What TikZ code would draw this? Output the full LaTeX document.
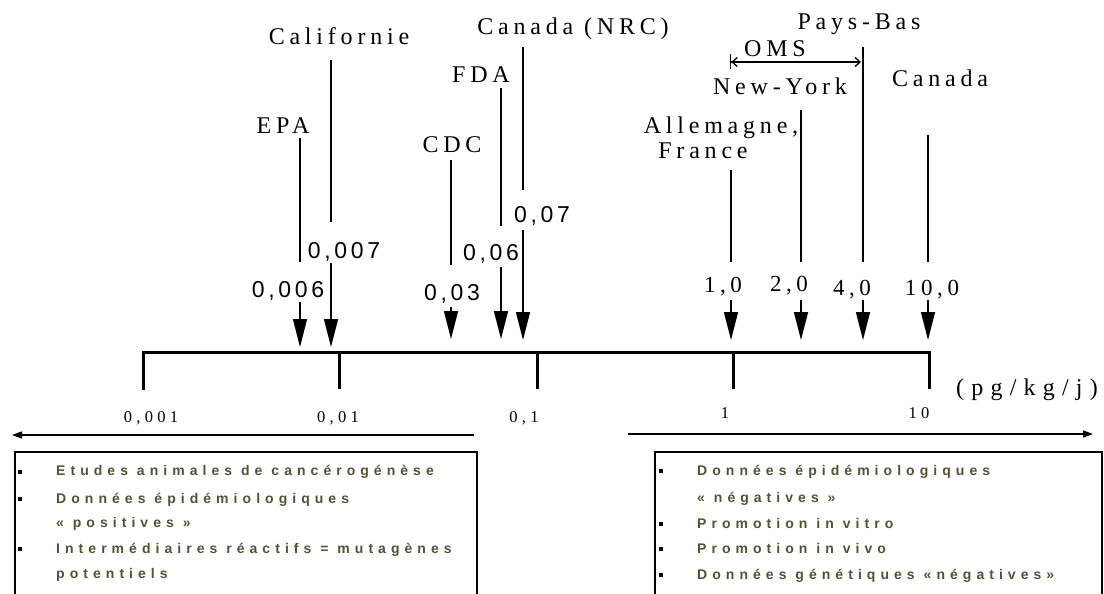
\documentclass[tikz,border=0pt]{standalone}
\usepackage{fontspec}
\setmainfont{Liberation Serif}
\newfontfamily\labf{Liberation Serif}[LetterSpace=20]
\newfontfamily\numsf{Liberation Sans}[LetterSpace=16]
\newfontfamily\numrm{Liberation Serif}[LetterSpace=20]
\newfontfamily\tickf{Liberation Serif}[LetterSpace=26]
\newfontfamily\unitf{Liberation Serif}[LetterSpace=30]
\newfontfamily\boxf{Liberation Sans}[LetterSpace=36]
\usetikzlibrary{arrows.meta}
\definecolor{olivegray}{RGB}{84,82,50}
\begin{document}
\begin{tikzpicture}[x=1pt,y=-1pt,
  lab/.style={inner sep=0pt, anchor=base, font=\fontsize{24}{26}\labf},
  vsf/.style={inner sep=0pt, anchor=base, font=\fontsize{23}{25}\numsf},
  vrm/.style={inner sep=0pt, anchor=base, font=\fontsize{23}{25}\numrm},
  ticklab/.style={inner sep=0pt, anchor=base, font=\fontsize{16.5}{18}\tickf},
  unitlab/.style={inner sep=0pt, anchor=base, font=\fontsize{24}{26}\unitf},
  btxt/.style={inner sep=0pt, anchor=base west, text=olivegray, font=\fontsize{14}{16}\boxf\bfseries},
  bul/.style={fill=black, inner sep=0pt, minimum size=4.5pt},
  conn/.style={line width=1.4pt},
  dosearrow/.style={line width=1.4pt, -{Triangle[length=28pt,width=14pt]}},
  axisline/.style={line width=3pt},
  boxline/.style={line width=1.6pt},
  longarr/.style={line width=1.3pt, -{Triangle[length=10pt,width=7pt]}},
  omsarrow/.style={line width=1.3pt, {Bar[width=15pt]Straight Barb[length=5pt,width=9pt]}-{Straight Barb[length=5pt,width=9pt]}}
]
\useasboundingbox (0,0) rectangle (1104,594);

% ---- top labels
\node[lab] (epa) at (283,133) {EPA};
\node[lab] (cal) at (339,45) {Californie};
\node[lab] (cdc) at (452,153) {CDC};
\node[lab] (fda) at (481,83) {FDA};
\node[lab] (nrc) at (573,35) {Canada (NRC)};
\node[lab] (pb) at (859,30) {Pays-Bas};
\node[lab] (omsl) at (775,57) {OMS};
\node[lab] (ny) at (780,95) {New-York};
\node[lab] (can) at (940,87) {Canada};
\node[lab] (all) at (721,133) {Allemagne,};
\node[lab] (fra) at (703,158) {France};

% ---- value labels
\node[vsf] (v1) at (288,297) {0,006};
\node[vsf] (v2) at (344,258) {0,007};
\node[vsf] (v3) at (452,300) {0,03};
\node[vsf] (v4) at (491,260) {0,06};
\node[vsf] (v5) at (542,222) {0,07};
\node[vrm] (v6) at (723,292) {1,0};
\node[vrm] (v7) at (789,291) {2,0};
\node[vrm] (v8) at (852,295) {4,0};
\node[vrm] (v9) at (932,295) {10,0};

% ---- connector coordinates
\foreach \n/\x/\t/\b/\s/\e in {epa/300/138/262/302/347, cal/331/60/222/263/347,
   cdc/451/160/265/307/339, fda/501/88/226/267/339, nrc/523/47/190/230/340,
   all/731/170/262/300/340, ny/801/110/262/300/340, pb/863/47/262/300/340,
   can/928/135/262/300/340}{
  \coordinate (\n T) at (\x,\t);
  \coordinate (\n B) at (\x,\b);
  \coordinate (\n S) at (\x,\s);
  \coordinate (\n E) at (\x,\e);
  \draw[conn] (\n T) -- (\n B);
  \draw[dosearrow] (\n S) -- (\n E);
}

% ---- OMS range
\coordinate (omsA) at (730,62);
\coordinate (omsB) at (861,62);
\draw[omsarrow] (omsA) -- (omsB);

% ---- axis
\coordinate (a0) at (143,390);
\coordinate (a1) at (143,352);
\coordinate (a5) at (929,352);
\coordinate (a6) at (929,389);
\draw[axisline] (a0) -- (a1) -- (a5) -- (a6);
\foreach \n/\x in {t2/339, t3/537, t4/733}{
  \coordinate (\n a) at (\x,352);
  \coordinate (\n b) at (\x,389);
  \draw[axisline] (\n a) -- (\n b);
}
\node[ticklab] (k1) at (151,422) {0,001};
\node[ticklab] (k2) at (338,422) {0,01};
\node[ticklab] (k3) at (524,422) {0,1};
\node[ticklab] (k4) at (725,418) {1};
\node[ticklab] (k5) at (919,418) {10};
\node[unitlab] (u) at (1027,395) {(pg/kg/j)};

% ---- long arrows
\coordinate (la1) at (474,435);
\coordinate (la2) at (12,435);
\coordinate (ra1) at (628,434);
\coordinate (ra2) at (1093,434);
\draw[longarr] (la1) -- (la2);
\draw[longarr] (ra1) -- (ra2);

% ---- boxes
\coordinate (lb1) at (15,596); \coordinate (lb2) at (15,452);
\coordinate (lb3) at (477,452); \coordinate (lb4) at (477,596);
\draw[boxline] (lb1) -- (lb2) -- (lb3) -- (lb4);
\coordinate (rb1) at (655,596); \coordinate (rb2) at (655,452);
\coordinate (rb3) at (1102,452); \coordinate (rb4) at (1102,596);
\draw[boxline] (rb1) -- (rb2) -- (rb3) -- (rb4);

% left box
\node[bul] (lbu1) at (20,472) {};
\node[bul] (lbu2) at (20,499) {};
\node[bul] (lbu3) at (20,549) {};
\node[btxt] (lt1) at (56,475) {Etudes animales de cancérogénèse};
\node[btxt] (lt2) at (56,503) {Données épidémiologiques};
\node[btxt] (lt3) at (56,527) {« positives »};
\node[btxt] (lt4) at (56,553) {Intermédiaires réactifs = mutagènes};
\node[btxt] (lt5) at (56,578) {potentiels};

% right box
\node[bul] (rbu1) at (661,471) {};
\node[bul] (rbu2) at (661,524) {};
\node[bul] (rbu3) at (661,549) {};
\node[bul] (rbu4) at (661,575) {};
\node[btxt] (rt1) at (697,475) {Données épidémiologiques};
\node[btxt] (rt2) at (697,502) {« négatives »};
\node[btxt] (rt3) at (697,528) {Promotion in vitro};
\node[btxt] (rt4) at (697,553) {Promotion in vivo};
\node[btxt] (rt5) at (697,579) {Données génétiques «négatives»};
\end{tikzpicture}
\end{document}
